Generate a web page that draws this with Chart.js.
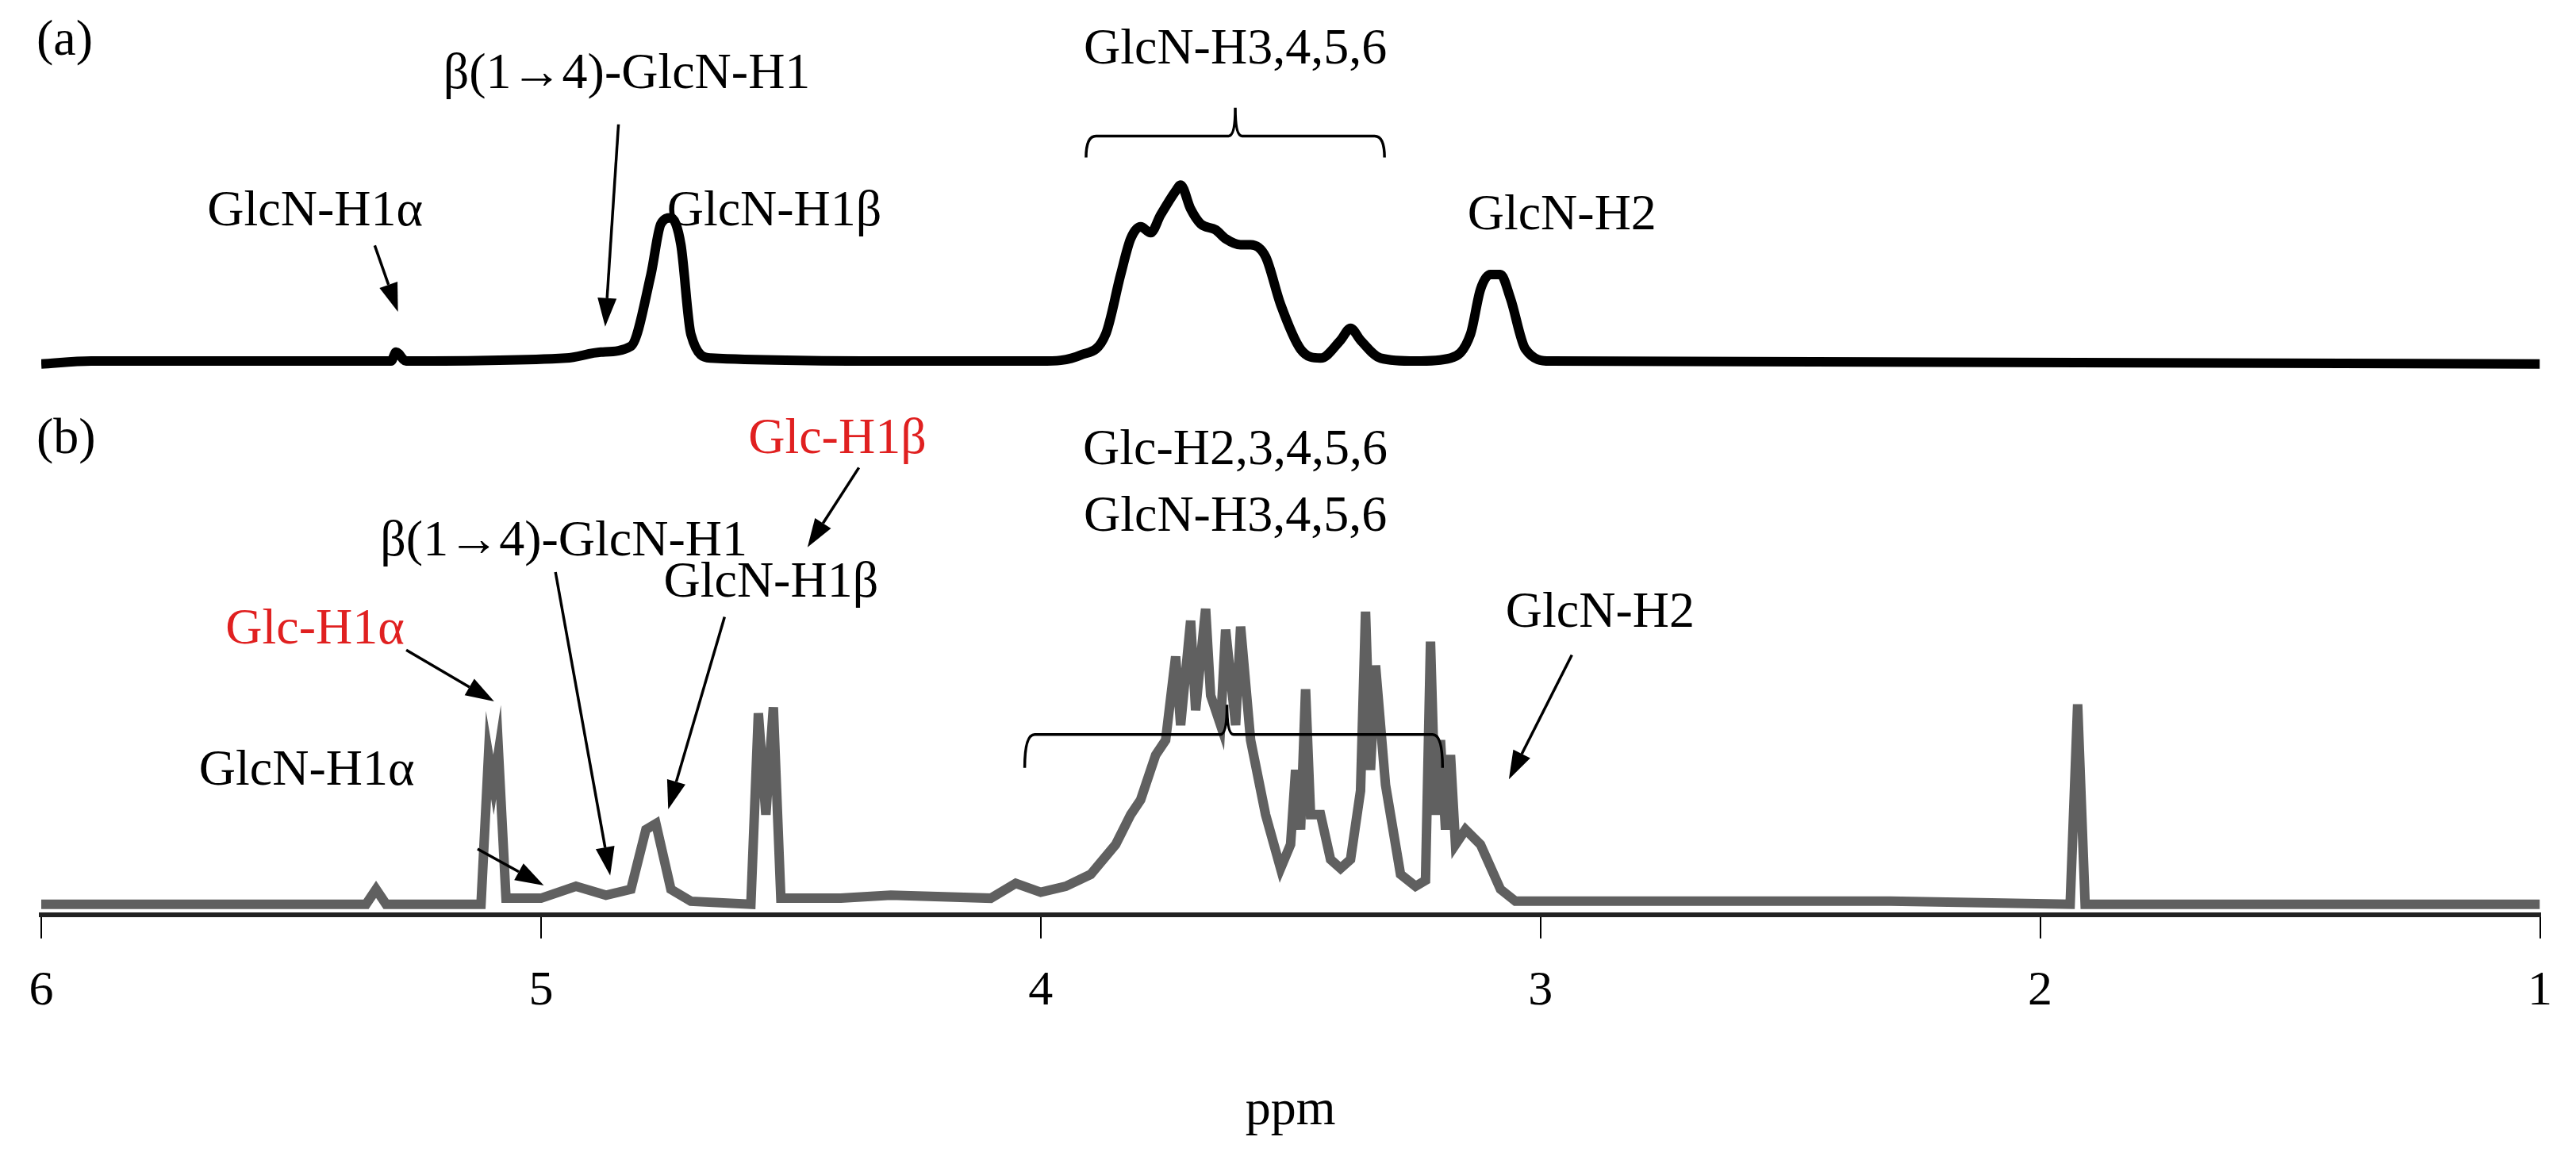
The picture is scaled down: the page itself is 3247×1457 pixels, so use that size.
<!DOCTYPE html>
<html>
<head>
<meta charset="UTF-8">
<title>1H NMR</title>
<script src="https://cdn.jsdelivr.net/npm/chart.js@4.4.1/dist/chart.umd.min.js"></script>
<style>
  html, body { margin: 0; padding: 0; background: #fff; }
  #wrap { width: 3247px; height: 1457px; }
</style>
</head>
<body>
<div id="wrap"><canvas id="nmr" width="3247" height="1457"></canvas></div>
<script>
// chemical shift axis (ppm)
const ppmTicks = [6, 5, 4, 3, 2, 1];

// spectrum (a): [ppm, intensity]
const specA_ppm = [6.0, 5.9, 5.3, 5.29, 5.27, 4.95, 4.88, 4.82, 4.78, 4.76, 4.74, 4.72, 4.70, 4.66, 4.3, 4.0,
  3.92, 3.87, 3.84, 3.82, 3.80, 3.78, 3.76, 3.73, 3.72, 3.70, 3.68, 3.65, 3.63, 3.60, 3.58, 3.55, 3.52, 3.48,
  3.44, 3.40, 3.38, 3.36, 3.32, 3.25, 3.18, 3.14, 3.12, 3.10, 3.08, 3.06, 3.03, 2.98, 1.0];
const specA_int = [0, 0.01, 0.01, 0.04, 0.01, 0.02, 0.04, 0.06, 0.30, 0.47, 0.49, 0.40, 0.10, 0.02, 0.01, 0.01,
  0.03, 0.10, 0.30, 0.42, 0.46, 0.44, 0.50, 0.58, 0.60, 0.52, 0.47, 0.45, 0.42, 0.40, 0.40, 0.36, 0.20, 0.05,
  0.02, 0.08, 0.12, 0.08, 0.02, 0.01, 0.02, 0.10, 0.25, 0.30, 0.30, 0.22, 0.05, 0.01, 0];

// spectrum (b): [ppm, intensity]
const specB_ppm = [6.0, 5.35, 5.33, 5.31, 5.12, 5.105, 5.095, 5.085, 5.07, 5.0, 4.93, 4.87, 4.82, 4.79, 4.77,
  4.74, 4.70, 4.58, 4.565, 4.55, 4.535, 4.52, 4.4, 4.3, 4.1, 4.05, 4.0, 3.95, 3.9, 3.85, 3.82, 3.80, 3.77,
  3.75, 3.73, 3.72, 3.70, 3.69, 3.67, 3.66, 3.64, 3.63, 3.61, 3.60, 3.58, 3.55, 3.52, 3.50, 3.49, 3.48,
  3.47, 3.46, 3.44, 3.42, 3.40, 3.38, 3.36, 3.35, 3.34, 3.33, 3.31, 3.28, 3.25, 3.23, 3.22, 3.21, 3.20,
  3.19, 3.18, 3.17, 3.15, 3.12, 3.08, 3.05, 2.3, 1.94, 1.925, 1.91, 1.0];
const specB_int = [0, 0, 0.05, 0, 0, 0.50, 0.40, 0.51, 0.02, 0.02, 0.06, 0.03, 0.05, 0.25, 0.27,
  0.05, 0.01, 0, 0.64, 0.30, 0.66, 0.02, 0.02, 0.03, 0.02, 0.07, 0.04, 0.06, 0.10, 0.20, 0.30, 0.35, 0.50,
  0.55, 0.83, 0.60, 0.95, 0.65, 0.99, 0.70, 0.60, 0.92, 0.60, 0.93, 0.55, 0.30, 0.12, 0.20, 0.45, 0.25,
  0.72, 0.30, 0.30, 0.15, 0.12, 0.15, 0.38, 0.98, 0.45, 0.80, 0.40, 0.10, 0.06, 0.08, 0.88, 0.30, 0.55,
  0.25, 0.50, 0.20, 0.25, 0.20, 0.05, 0.01, 0.01, 0, 0.67, 0, 0];

const offsetA = 1.81; // vertical stacking of trace (a)

const toPts = (xs, ys, off) => xs.map((x, i) => ({ x: x, y: ys[i] + off }));

// annotation layout (positions in half-scale units, multiplied by S)
const S = 2.09;
const labels = [
  ['(a)', 22, 25, 'left', '#000'],
  ['β(1→4)-GlcN-H1', 378, 45, 'center', '#000'],
  ['GlcN-H3,4,5,6', 745, 30, 'center', '#000'],
  ['GlcN-H1α', 190, 128, 'center', '#000'],
  ['GlcN-H1β', 467, 128, 'center', '#000'],
  ['GlcN-H2', 942, 130, 'center', '#000'],
  ['(b)', 22, 265, 'left', '#000'],
  ['Glc-H2,3,4,5,6', 745, 272, 'center', '#000'],
  ['GlcN-H3,4,5,6', 745, 312, 'center', '#000'],
  ['β(1→4)-GlcN-H1', 340, 327, 'center', '#000'],
  ['Glc-H1β', 505, 265, 'center', '#e02020'],
  ['GlcN-H1β', 465, 352, 'center', '#000'],
  ['Glc-H1α', 190, 380, 'center', '#e02020'],
  ['GlcN-H2', 965, 370, 'center', '#000'],
  ['GlcN-H1α', 185, 465, 'center', '#000']
];
const arrows = [
  [226, 148, 240, 188], [373, 75, 365, 197],
  [245, 392, 298, 423], [335, 345, 368, 528], [437, 372, 403, 488],
  [518, 282, 487, 330], [948, 395, 910, 470], [288, 512, 328, 534]
];
const brackets = [[655, 835, 82, 95, 65, 745], [618, 870, 443, 463, 425, 740]];

const annot = {
  id: 'annot',
  afterDraw(chart) {
    const c = chart.ctx;
    c.save();
    c.font = '64px "Liberation Serif", "DejaVu Serif", serif';
    c.textBaseline = 'middle';
    labels.forEach(([t, x, y, al, col]) => {
      c.fillStyle = col; c.textAlign = al;
      c.fillText(t, x * S, y * S);
    });
    c.strokeStyle = '#000'; c.fillStyle = '#000'; c.lineWidth = 3.5;
    arrows.forEach(([x1, y1, x2, y2]) => {
      x1 *= S; y1 *= S; x2 *= S; y2 *= S;
      const a = Math.atan2(y2 - y1, x2 - x1), L = 36, W = 12;
      const bx = x2 - L * Math.cos(a), by = y2 - L * Math.sin(a);
      c.beginPath(); c.moveTo(x1, y1); c.lineTo(bx, by); c.stroke();
      c.beginPath(); c.moveTo(x2, y2);
      c.lineTo(bx + W * Math.sin(a), by - W * Math.cos(a));
      c.lineTo(bx - W * Math.sin(a), by + W * Math.cos(a));
      c.closePath(); c.fill();
    });
    c.lineWidth = 3.5;
    brackets.forEach(([l, r, y, ye, yt, xm]) => {
      c.beginPath();
      c.moveTo(l * S, ye * S); c.quadraticCurveTo(l * S, y * S, (l + 6) * S, y * S);
      c.lineTo((xm - 4) * S, y * S); c.quadraticCurveTo(xm * S, y * S, xm * S, yt * S);
      c.quadraticCurveTo(xm * S, y * S, (xm + 4) * S, y * S);
      c.lineTo((r - 6) * S, y * S); c.quadraticCurveTo(r * S, y * S, r * S, ye * S);
      c.stroke();
    });
    c.restore();
  }
};

new Chart(document.getElementById('nmr'), {
  type: 'line',
  data: {
    datasets: [
      { label: '(a)', data: toPts(specA_ppm, specA_int, offsetA), borderColor: '#000', borderWidth: 12,
        pointRadius: 0, cubicInterpolationMode: 'monotone', fill: false },
      { label: '(b)', data: toPts(specB_ppm, specB_int, 0), borderColor: '#606060', borderWidth: 12,
        pointRadius: 0, tension: 0, fill: false }
    ]
  },
  options: {
    responsive: false,
    animation: false,
    devicePixelRatio: 1,
    layout: { padding: { left: 52, right: 32, top: 0, bottom: 0 } },
    plugins: { legend: { display: false }, tooltip: { enabled: false } },
    scales: {
      x: {
        type: 'linear', reverse: true, min: 1, max: 6,
        afterBuildTicks: (ax) => { ax.ticks = ppmTicks.map(v => ({ value: v })); },
        grid: { drawOnChartArea: false, tickLength: 30, color: '#000', lineWidth: 2 },
        border: { color: '#222', width: 6 },
        ticks: { color: '#000', padding: 30, font: { family: '"Liberation Serif", serif', size: 62 } },
        title: { display: true, text: 'ppm', color: '#000', padding: { top: 45, bottom: 18 },
          font: { family: '"Liberation Serif", serif', size: 64 } }
      },
      y: { display: false, min: -0.035, max: 3.03 }
    }
  },
  plugins: [annot]
});
</script>
</body>
</html>
